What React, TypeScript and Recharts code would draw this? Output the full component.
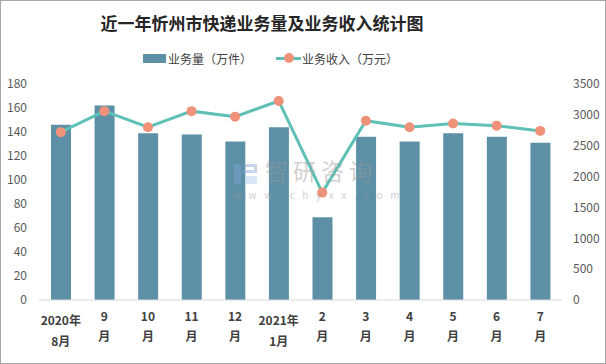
import React from 'react'
import {
  ComposedChart, Bar, Line, XAxis, YAxis
} from 'recharts'

const months = ['2020年8月', '9月', '10月', '11月', '12月', '2021年1月', '2月', '3月', '4月', '5月', '6月', '7月']
const volume = [146, 162, 139, 138, 132, 144, 69, 136, 132, 139, 136, 131]
const revenue = [2720, 3060, 2800, 3060, 2970, 3225, 1740, 2905, 2800, 2860, 2825, 2740]
const leftTicks = [0, 20, 40, 60, 80, 100, 120, 140, 160, 180]
const rightTicks = [0, 500, 1000, 1500, 2000, 2500, 3000, 3500]

const data = months.map((m, i) => ({ month: m, volume: volume[i], revenue: revenue[i] }))

const BAR_COLOR = '#5d90a7'
const LINE_COLOR = '#5fc0b6'
const DOT_COLOR = '#f0927a'
const FONT = '"Noto Sans CJK SC", "Noto Sans", sans-serif'

function MonthTick({ x, payload }: any) {
  const label: string = payload.value
  let lines: string[]
  let ys: number[]
  if (label.includes('年')) {
    const i = label.indexOf('年') + 1
    lines = [label.slice(0, i), label.slice(i)]
    ys = [322, 343]
  } else {
    lines = [label.replace('月', ''), '月']
    ys = [318, 338]
  }
  return (
    <g>
      {lines.map((t, k) => (
        <text key={k} x={x} y={ys[k]} textAnchor="middle" dominantBaseline="middle"
          fontSize={12} fontWeight="bold" fill="#404040" fontFamily={FONT}>
          {t}
        </text>
      ))}
    </g>
  )
}

// faint 智研咨询 watermark laid over the plot
function Watermark() {
  return (
    <div style={{ position: 'absolute', left: 0, top: 0, width: 606, height: 364, pointerEvents: 'none', opacity: 0.45 }}>
      <div style={{ position: 'absolute', left: 234, top: 164, width: 7, height: 20, background: '#7ea6d6' }} />
      <div style={{ position: 'absolute', left: 243, top: 164, width: 14, height: 9, border: '3px solid #7ea6d6', borderLeft: 'none', boxSizing: 'border-box' }} />
      <div style={{ position: 'absolute', left: 246, top: 176, width: 11, height: 8, background: '#a9c8ea' }} />
      <div style={{
        position: 'absolute', left: 265, top: 159, fontSize: 23, letterSpacing: 5,
        color: '#9a9a9a', whiteSpace: 'nowrap', lineHeight: '23px'
      }}>智研咨询</div>
      <div style={{
        position: 'absolute', left: 233, top: 190, fontSize: 10, letterSpacing: 7.6,
        color: '#9a9a9a', whiteSpace: 'nowrap', lineHeight: '10px'
      }}>www.chyxx.com</div>
    </div>
  )
}

function App() {
  return (
    <div style={{ position: 'relative', width: 606, height: 364, background: '#fff', fontFamily: FONT }}>
      <style>{'body{margin:0}'}</style>
      <div style={{
        position: 'absolute', left: 97, width: 330, top: 10, textAlign: 'center',
        fontSize: 17, fontWeight: 'bold', color: '#262626', whiteSpace: 'nowrap'
      }}>
        近一年忻州市快递业务量及业务收入统计图
      </div>
      <div style={{ position: 'absolute', top: 50, left: 143, height: 16, display: 'flex', alignItems: 'center', fontSize: 12, color: '#404040' }}>
        <span style={{ display: 'inline-block', width: 23, height: 9, background: BAR_COLOR, marginRight: 2 }} />
        <span>业务量（万件）</span>
        <span style={{ display: 'inline-block', position: 'relative', width: 25, height: 10, marginLeft: 24, marginRight: 1 }}>
          <span style={{ position: 'absolute', left: 0, top: 4, width: 25, height: 3, background: LINE_COLOR }} />
          <span style={{ position: 'absolute', left: 8, top: 0, width: 10, height: 10, borderRadius: 5, background: DOT_COLOR }} />
        </span>
        <span>业务收入（万元）</span>
      </div>
      <ComposedChart width={606} height={364} data={data}
        margin={{ top: 84, right: 0, bottom: 0, left: 0 }} style={{ position: 'absolute', left: 0, top: 0 }}>
        <XAxis dataKey="month" height={64} axisLine={{ stroke: '#d9d9d9' }} tickLine={false}
          interval={0} tick={<MonthTick />} />
        <YAxis yAxisId="left" width={39} domain={[0, 180]} ticks={leftTicks} axisLine={false}
          tickLine={false} tickSize={0} tickMargin={12} interval={0}
          tick={{ fontSize: 12, fill: '#595959', fontFamily: FONT }} />
        <YAxis yAxisId="right" orientation="right" width={44} domain={[0, 3500]} ticks={rightTicks}
          axisLine={false} tickLine={false} tickSize={0} tickMargin={11} interval={0}
          tick={{ fontSize: 12, fill: '#595959', fontFamily: FONT, textAnchor: 'start' }} />
        <Bar yAxisId="left" dataKey="volume" fill={BAR_COLOR} barSize={20} isAnimationActive={false} />
        <Line yAxisId="right" dataKey="revenue" stroke={LINE_COLOR} strokeWidth={3}
          dot={{ r: 5, fill: DOT_COLOR, stroke: 'none' }} activeDot={false} isAnimationActive={false} />
      </ComposedChart>
      <Watermark />
      <div style={{
        position: 'absolute', left: 0, top: 0, width: 606, height: 364,
        border: '1px solid #a6a6a6', boxSizing: 'border-box', pointerEvents: 'none'
      }} />
    </div>
  )
}

export default App
